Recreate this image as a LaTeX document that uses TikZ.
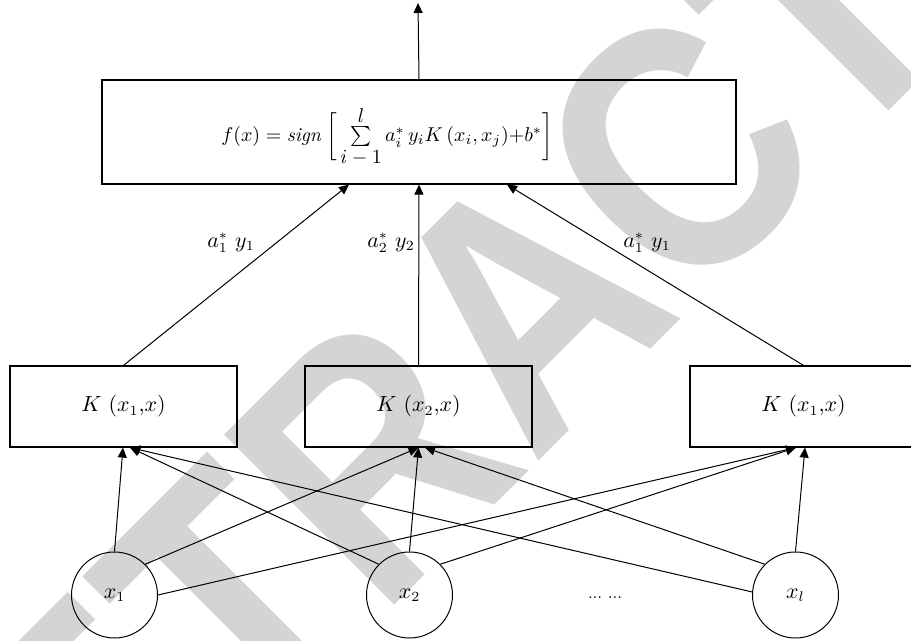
\documentclass[tikz,border=0pt]{standalone}
\usepackage{fontspec}
\newfontfamily\wmfont{Liberation Sans}
\usetikzlibrary{arrows.meta}
\definecolor{wm}{RGB}{212,212,212}
\begin{document}
\begin{tikzpicture}[x=0.5pt,y=-0.5pt,
  font=\fontsize{10.5}{12.6}\selectfont,
  topbox/.style={draw, line width=0.6pt, minimum width=317pt, minimum height=52pt, inner sep=0pt},
  kbox/.style={draw, line width=0.6pt, minimum width=113.5pt, minimum height=40.5pt, inner sep=0pt},
  inp/.style={draw, circle, line width=0.5pt, minimum size=43pt, inner sep=0pt},
  arr/.style={-{Triangle[length=5pt,width=4.5pt]}, line width=0.5pt},
  link/.style={line width=0.5pt},
  wlabel/.style={inner sep=0pt}]
\useasboundingbox (0,0) rectangle (911,641);
\clip (0,0) rectangle (911,641);
% watermark
\node[rotate=45, text=wm, inner sep=0pt] (wm) at (525,305)
  {\scalebox{0.857}[1]{\wmfont\bfseries\fontsize{175}{175}\selectfont RETRACTED}};
% top box
\node[topbox] (top) at (419,132) {};
\node[inner sep=0pt, font=\fontsize{9.8}{11.8}\selectfont] (fx) at (387,137)
  {$f(x) = \textit{sign}\;\bigg[\mathop{\textstyle\sum}\limits_{\textstyle i-1}^{\textstyle l} a_i^*\,y_i K\,(x_i, x_j){+}b^*\bigg]$};
\coordinate (out) at (418,3);
\draw[arr] (top.north) -- (out);
% kernel boxes
\node[kbox] (k1) at (123.5,406.5) {$K\ (x_1{,}x)$};
\node[kbox] (k2) at (418.5,406.5) {$K\ (x_2{,}x)$};
\node[kbox] (k3) at (803.5,406.5) {$K\ (x_1{,}x)$};
\coordinate (t1) at ([xshift=-35pt]top.south);
\coordinate (t3) at ([xshift=44pt]top.south);
\draw[link, arr] (k1.north) -- (t1);
\draw[link, arr] (k2.north) -- (top.south);
\draw[link, arr] (k3.north) -- (t3);
\node[wlabel] (l1) at (231,243) {$a_1^*\ y_1$};
\node[wlabel] (l2) at (391,243) {$a_2^*\ y_2$};
\node[wlabel] (l3) at (647,243) {$a_1^*\ y_1$};
% inputs
\node[inp] (c1) at (114.5,595) {$x_1$};
\node[inp] (c2) at (409.5,595) {$x_2$};
\node[inp] (c3) at (795.5,595) {$x_l$};
\node[inner sep=0pt] (dots) at (605,598) {\fontsize{8}{9}\selectfont ...\ ...};
\coordinate (k1a) at ([xshift=-0.25pt]k1.south);
\coordinate (k1b) at ([xshift=3.25pt]k1.south);
\coordinate (k2a) at (k2.south);
\coordinate (k2b) at ([xshift=3.25pt]k2.south);
\coordinate (k3a) at ([xshift=-3.75pt]k3.south);
\coordinate (k3b) at ([xshift=0.75pt]k3.south);
\draw[arr] (c1.north) -- (k1a);
\draw[arr] (c1.45) -- (k2a);
\draw[arr] (c1.east) -- (k3a);
\draw[arr] (c2.135) -- (k1b);
\draw[arr] (c2.north) -- (k2a);
\draw[arr] (c2.45) -- (k3a);
\draw[arr] (c3.176) -- (k1b);
\draw[arr] (c3.135) -- (k2b);
\draw[arr] (c3.north) -- (k3b);
\end{tikzpicture}
\end{document}
